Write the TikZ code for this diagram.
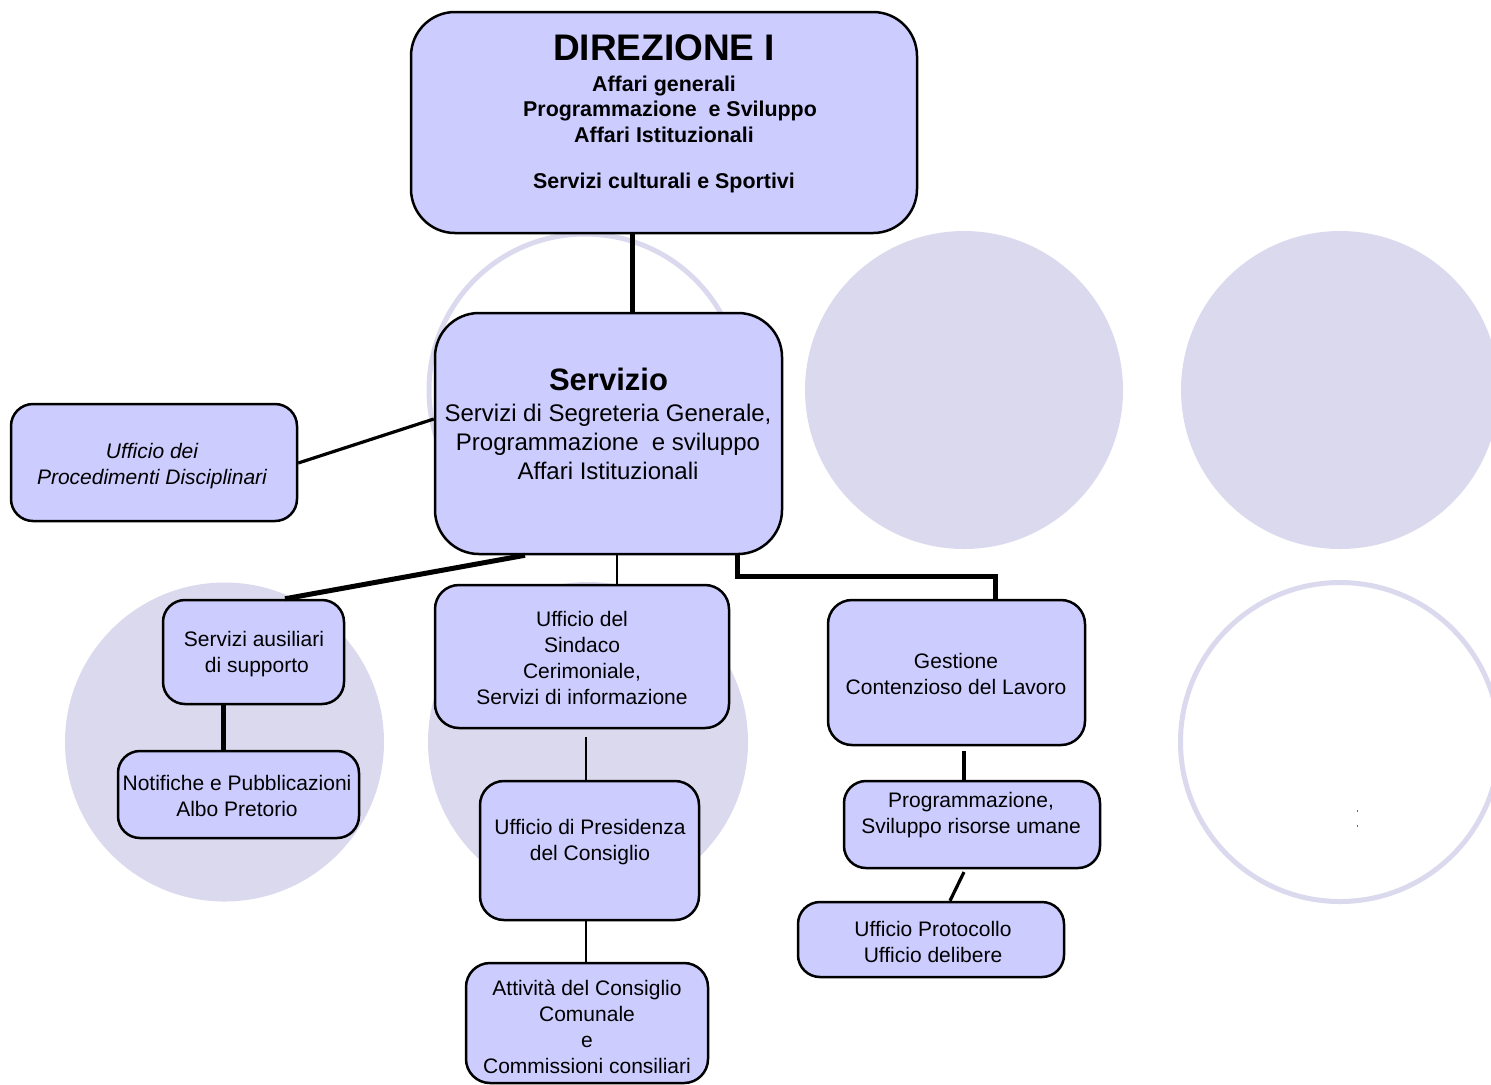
\documentclass[tikz,border=0pt]{standalone}
\usepackage{fontspec}
\setmainfont{Liberation Sans}
\definecolor{boxfill}{HTML}{CCCCFF}
\definecolor{circ}{HTML}{DBD9EE}
\begin{document}
\begin{tikzpicture}[x=0.5pt,y=-0.5pt,
  box/.style={draw=black, line width=1.25pt, fill=boxfill, rounded corners=#1, inner sep=0pt},
  box/.default=11pt,
  sz/.style 2 args={minimum width=#1*0.5pt, minimum height=#2*0.5pt},
  txt/.style={align=center, inner sep=0pt, font=\fontsize{10.5}{13}\selectfont},
  ring/.style={draw=circ, line width=2.5pt},
  disc/.style={fill=circ},
  thick line/.style={line width=2.5pt},
  mid line/.style={line width=1.6pt},
  thin line/.style={line width=1pt}]
\useasboundingbox (0,0) rectangle (1491,1084);
% background circles
\draw[ring] (585,390) circle[radius=156];
\fill[disc] (964,390) circle[radius=159];
\fill[disc] (1340,390) circle[radius=159];
\fill[disc] (224.5,742) circle[radius=159.5];
\fill[disc] (588,742) circle[radius=160];
\draw[ring] (1340,742) circle[radius=159.5];
\fill[black!60] (1356.5,810) rectangle (1358,811.5);
\fill[black!60] (1356.5,825) rectangle (1358,826.5);
% boxes
\node[box=22pt, sz={506}{221}] (dir) at (664,122.5) {};
\node[box=22pt, sz={347}{241}] (serv) at (608.5,433.5) {};
\node[box, sz={286}{117}] (upd) at (154,462.5) {};
\node[box, sz={181}{104}] (aus) at (253.5,652) {};
\node[box, sz={241}{87}] (not) at (238.5,794.5) {};
\node[box=12pt, sz={294}{143}] (sin) at (582,656.5) {};
\node[box=12pt, sz={219}{139}] (pres) at (589.5,850.5) {};
\node[box=12pt, sz={242}{120}] (att) at (587,1023) {};
\node[box=12pt, sz={257}{145}] (ges) at (956.5,672.5) {};
\node[box, sz={256}{87}] (prog) at (972,824.5) {};
\node[box, sz={266}{75}] (prot) at (931,939.5) {};
% texts
\node[txt, font=\fontsize{18.5}{22}\bfseries\selectfont] (dirT) at (664,48) {DIREZIONE I};
\node[txt, font=\fontsize{10.7}{12.75}\bfseries\selectfont] (dirB) at (664,134.5)
  {Affari generali\\\hspace*{6pt}Programmazione\ \ e Sviluppo\\Affari Istituzionali\\[10.5pt]Servizi culturali e Sportivi};
\node[txt, font=\fontsize{15.5}{18}\bfseries\selectfont] (servT) at (608.5,379) {Servizio};
\node[txt, font=\fontsize{12}{14.5}\selectfont] (servB) at (608,442)
  {Servizi di Segreteria Generale,\\Programmazione\ \ e sviluppo\\Affari Istituzionali};
\node[txt, font=\fontsize{10.5}{13}\itshape\selectfont] (updT) at (152,466) {Ufficio dei\\Procedimenti Disciplinari};
\node[txt] (ausT) at (254,654.5) {Servizi ausiliari\\\ di supporto};
\node[txt] (notT) at (237,796) {Notifiche e Pubblicazioni\\Albo Pretorio};
\node[txt] (sinT) at (582,657.5) {Ufficio del\\Sindaco\\Cerimoniale,\\Servizi di informazione};
\node[txt] (presT) at (590,842) {Ufficio di Presidenza\\del Consiglio};
\node[txt] (attT) at (587,1027) {Attività del Consiglio\\Comunale\\e\\Commissioni consiliari};
\node[txt] (gesT) at (956,674) {Gestione\\Contenzioso del Lavoro};
\node[txt] (progT) at (971,815.5) {Programmazione,\\Sviluppo risorse umane};
\node[txt] (protT) at (933,941.5) {Ufficio Protocollo\\Ufficio delibere};
% helper coordinates
\coordinate (k632) at (632,0);
\coordinate (k419) at (0,419);
\coordinate (k463) at (0,463);
\coordinate (k525) at (525,0);
\coordinate (k285) at (285,0);
\coordinate (k617) at (617,0);
\coordinate (k737) at (737,0);
\coordinate (k576) at (0,576);
\coordinate (k995) at (995,0);
\coordinate (k223) at (223,0);
\coordinate (s1) at (586,737);
\coordinate (k586) at (586,0);
\coordinate (s2) at (964,751);
\coordinate (s3) at (964,872);
\coordinate (k950) at (950,0);
% connectors
\draw[thick line] (dir.south -| k632) -- (serv.north -| k632);
\draw[mid line] (serv.west |- k419) -- (upd.east |- k463);
\draw[thick line] (serv.south -| k525) -- (aus.north -| k285);
\draw[thin line] (serv.south -| k617) -- (sin.north -| k617);
\draw[thick line] (serv.south -| k737) -- (k737 |- k576) -- (k995 |- k576) -- (ges.north -| k995);
\draw[thick line] (aus.south -| k223) -- (not.north -| k223);
\draw[thin line] (s1) -- (pres.north -| k586);
\draw[thin line] (pres.south -| k586) -- (att.north -| k586);
\draw[mid line] (s2) -- (prog.north -| s2);
\draw[mid line] (s3) -- (prot.north -| k950);
\end{tikzpicture}
\end{document}
